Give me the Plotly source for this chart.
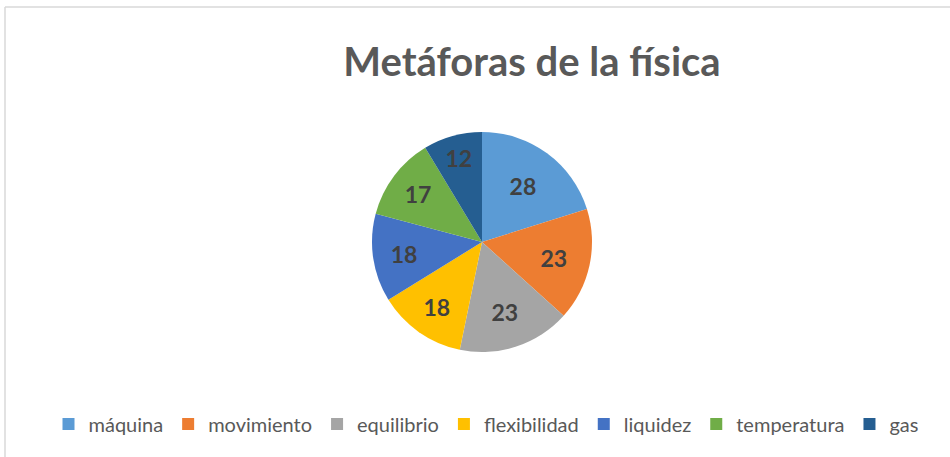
import plotly.graph_objects as go

categories = ["máquina", "movimiento", "equilibrio", "flexibilidad", "liquidez", "temperatura", "gas"]
values = [28, 23, 23, 18, 18, 17, 12]
colors = ["#5B9BD5", "#ED7D31", "#A5A5A5", "#FFC000", "#4472C4", "#70AD47", "#255E91"]

W, H = 950, 457
cx, cy, r = 482, 242, 110

fig = go.Figure(go.Pie(
    labels=categories,
    values=values,
    sort=False,
    direction="clockwise",
    rotation=0,
    marker=dict(colors=colors, line=dict(width=0)),
    textinfo="value",
    textposition="inside",
    insidetextorientation="horizontal",
    textfont=dict(family="Lato", size=23, color="#404040", weight="bold"),
    domain=dict(x=[(cx - r) / W, (cx + r) / W], y=[(H - cy - r) / H, (H - cy + r) / H]),
    hoverinfo="label+value",
))

fig.update_layout(
    width=W, height=H,
    margin=dict(l=0, r=0, t=0, b=0),
    paper_bgcolor="white",
    title=dict(text="<b>Metáforas de la física</b>", x=532 / W, xanchor="center",
               y=1 - 62 / H, yanchor="middle",
               font=dict(family="Lato", size=40, color="#595959")),
    legend=dict(orientation="h", x=486 / W, xanchor="center", y=1 - 424 / H, yanchor="middle",
                font=dict(family="Lato", size=20, color="#595959"),
                itemwidth=30, tracegroupgap=0),
    shapes=[
        dict(type="line", xref="paper", yref="paper", x0=5 / W, x1=1, y0=1 - 7 / H, y1=1 - 7 / H,
             line=dict(color="#D9D9D9", width=1.5)),
        dict(type="line", xref="paper", yref="paper", x0=5 / W, x1=5 / W, y0=0, y1=1 - 7 / H,
             line=dict(color="#D9D9D9", width=1.5)),
    ],
)

fig.write_html("out.html", config={"displayModeBar": False},
               post_script="document.body.style.margin='0';document.body.style.overflow='hidden';")
